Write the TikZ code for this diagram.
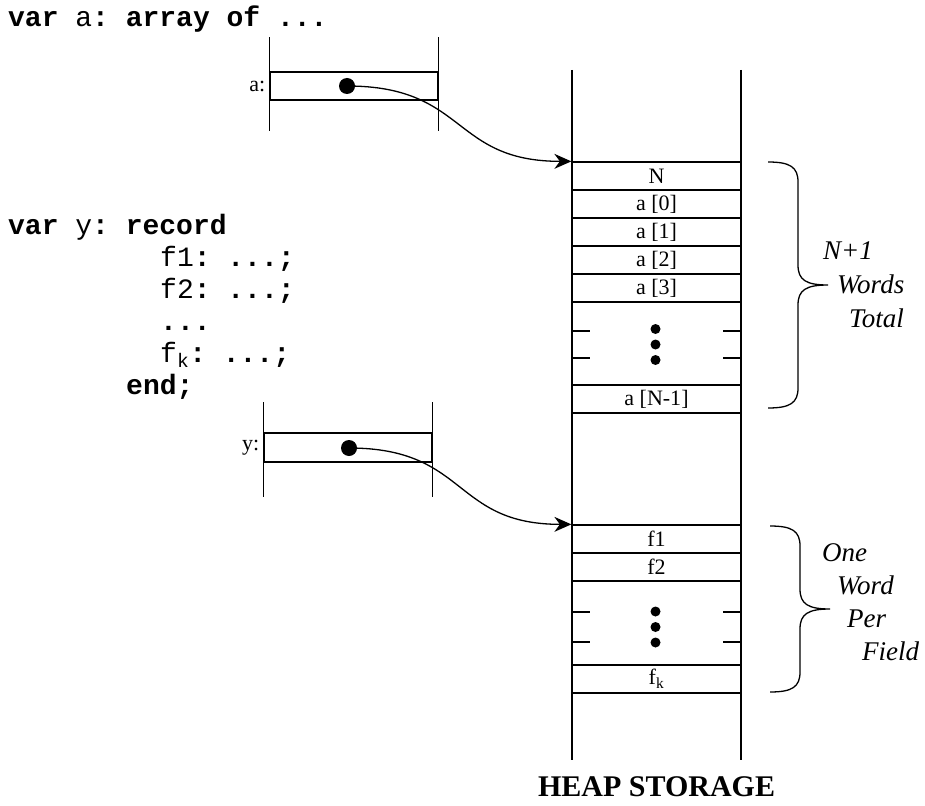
\documentclass[tikz,border=0pt]{standalone}
\usepackage{fontspec}
\setmainfont{Liberation Serif}
\setmonofont{Liberation Mono}
\usepackage{tikz}
\usetikzlibrary{arrows.meta,positioning,calc}
% brace: x of the two ends, top y, bottom y
\newcommand{\sizebrace}[3]{%
  \draw[line width=1.3pt] (#1,#2) .. controls ({#1+22},#2) and ({#1+30},{#2+5}) .. ({#1+30},{#2+20})
    -- ({#1+30},{(#2+#3)/2-20}) .. controls ({#1+30},{(#2+#3)/2-5}) and ({#1+38},{(#2+#3)/2}) .. ({#1+60},{(#2+#3)/2})
    .. controls ({#1+38},{(#2+#3)/2}) and ({#1+30},{(#2+#3)/2+5}) .. ({#1+30},{(#2+#3)/2+20})
    -- ({#1+30},{#3-20}) .. controls ({#1+30},{#3-5}) and ({#1+22},#3) .. (#1,#3);}

\begin{document}
\begin{tikzpicture}[x=1pt,y=-1pt,
  word/.style={rectangle, draw, line width=1.3pt, minimum width=169pt, minimum height=28pt,
               inner sep=0pt, font=\fontsize{22}{22}\selectfont},
  ptrcell/.style={rectangle, draw, line width=1.3pt, minimum width=168pt, minimum height=28pt, inner sep=0pt},
  bullet/.style={circle, fill, inner sep=0pt, minimum size=16pt},
  code/.style={anchor=base west, inner sep=0pt, font=\ttfamily\fontsize{28}{28}\selectfont},
  note/.style={anchor=base west, inner sep=0pt, font=\itshape\fontsize{27}{27}\selectfont},
  ptr/.style={line width=1.3pt, -{Stealth[length=17pt,width=15pt]}},
]
\useasboundingbox (0,0) rectangle (925,805);

% declarations
\node[code] (decla) at (8,27)  {\textbf{var} a\textbf{: array of ...}};
\node[code] (decly) at (8,234) {\textbf{var} y\textbf{: record}};
\node[code] (fone)  at (160,266) {f1\textbf{: ...;}};
\node[code] (ftwo)  at (160,298) {f2\textbf{: ...;}};
\node[code] (fdots) at (160,330) {\textbf{...}};
\node[code] (fkay)  at (160,362) {f\textsubscript{k}\textbf{: ...;}};
\node[code] (fend)  at (126,394) {\textbf{end;}};

% pointer variables
\node[ptrcell] (acell) at (354,86) {};
\node[left=4pt of acell, inner sep=0pt, font=\fontsize{22}{22}\selectfont] (alabel) {a:};
\draw[line width=1.3pt] ([yshift=34pt]acell.north west) -- ([yshift=-30pt]acell.south west);
\draw[line width=1.3pt] ([yshift=34pt]acell.north east) -- ([yshift=-30pt]acell.south east);
\node[bullet] (adot) at (347,86) {};

\node[ptrcell, minimum height=29pt] (ycell) at (348,447.5) {};
\node[left=4pt of ycell, inner sep=0pt, font=\fontsize{22}{22}\selectfont] (ylabel) {y:};
\draw[line width=1.3pt] ([yshift=30pt]ycell.north west) -- ([yshift=-34pt]ycell.south west);
\draw[line width=1.3pt] ([yshift=30pt]ycell.north east) -- ([yshift=-34pt]ycell.south east);
\node[bullet] (ydot) at (349,448) {};

% heap
\draw[line width=1.3pt] (572,70) -- (572,760);
\draw[line width=1.3pt] (741,70) -- (741,760);

\node[word] (n) at (656.5,176) {N};
\foreach \i in {0,...,3}
  \node[word] (a\i) at (656.5,{204+28*\i}) {a [\i]};
\node[word] (alast) at (656.5,399) {a [N-1]};

\node[word] (fcell1) at (656.5,539) {f1};
\node[word] (fcell2) at (656.5,567) {f2};
\node[word] (fcellk) at (656.5,679) {f\textsubscript{k}};

\foreach \ya/\yb in {331/358, 612/642} {
  \draw[line width=1.3pt] (572,\ya) -- +(18,0) (741,\ya) -- +(-18,0)
                          (572,\yb) -- +(18,0) (741,\yb) -- +(-18,0);
  \foreach \d in {0,1,2}
    \fill (655.5,{(\ya+\yb)/2+15.5*(\d-1)}) circle (5pt);
}

% pointers into the heap
\draw[ptr] (adot.center) to[out=0,in=180,looseness=1.3] (n.north west);
\draw[ptr] (ydot.center) to[out=0,in=180,looseness=1.3] (fcell1.north west);

% sizes
\sizebrace{768}{162}{408}
\sizebrace{770}{526}{692}
\node[note] (cnt1) at (823,259) {N+1};
\node[note] (cnt2) at (837,293) {Words};
\node[note] (cnt3) at (849,327) {Total};
\node[note] (per1) at (822,561) {One};
\node[note] (per2) at (837,594) {Word};
\node[note] (per3) at (847,627) {Per};
\node[note] (per4) at (862,660) {Field};

\node[anchor=base, inner sep=0pt, font=\bfseries\fontsize{30}{30}\selectfont] (heap) at (656.5,796) {HEAP STORAGE};
\end{tikzpicture}
\end{document}
